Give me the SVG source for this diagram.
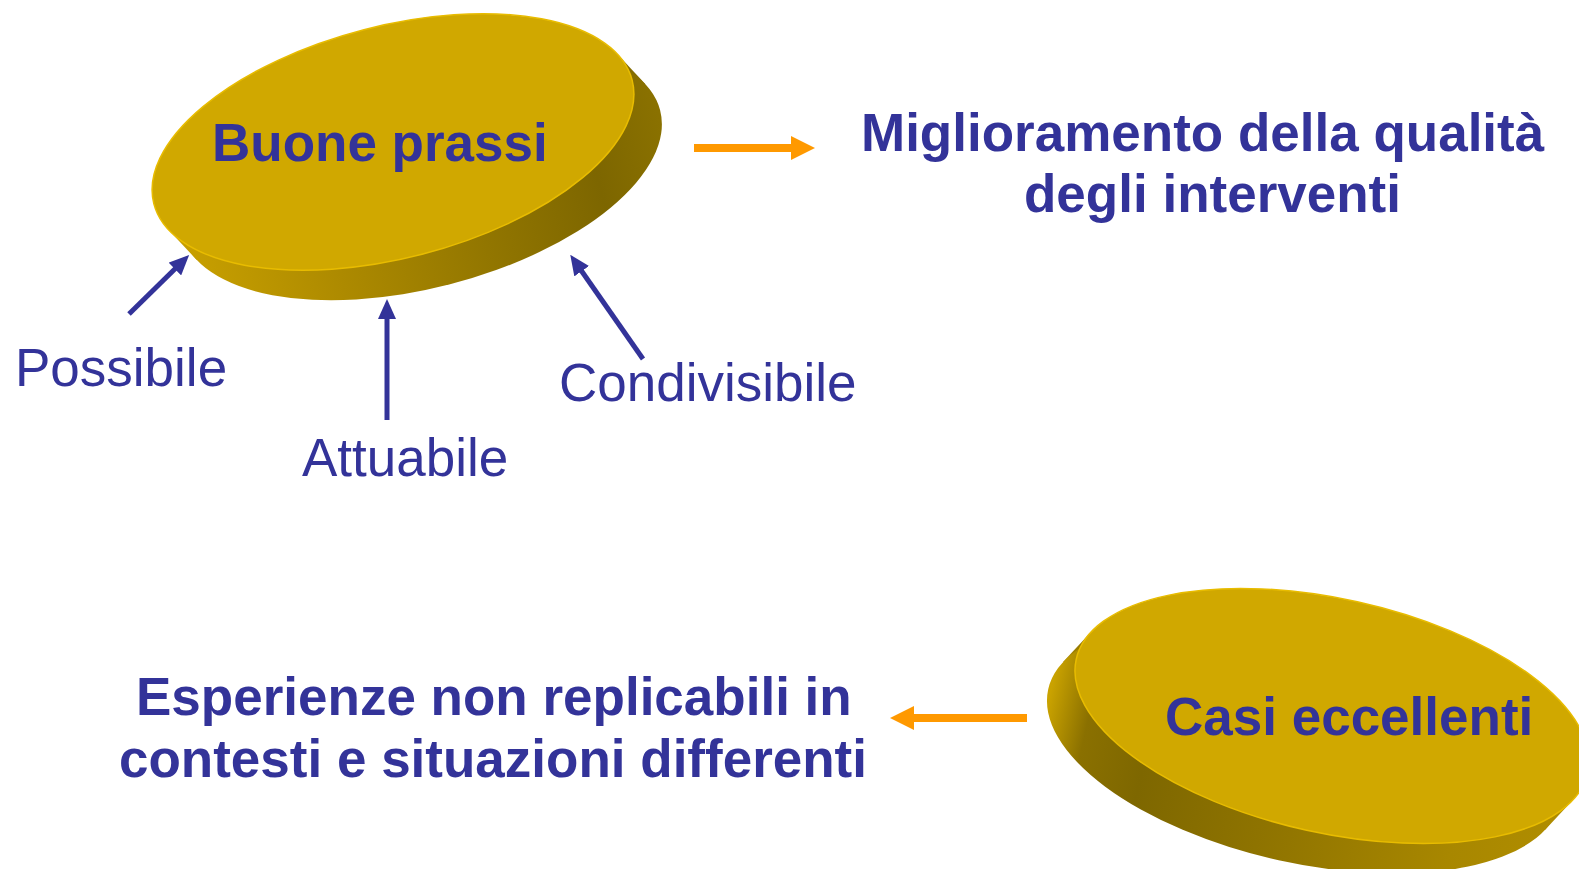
<svg xmlns="http://www.w3.org/2000/svg" width="1579" height="869" viewBox="0 0 1579 869">
<style>
.face{fill:#D0A800;stroke:#E8BC00;stroke-width:1.5}
.bold{font-family:"Liberation Sans",Arial,sans-serif;font-weight:bold;font-size:53px;fill:#333399}
.reg{font-family:"Liberation Sans",Arial,sans-serif;font-size:53px;fill:#333399}
.blue{stroke:#333399;stroke-width:5;fill:none}
.orange{stroke:#FF9900;stroke-width:8;fill:none}
</style>
<defs>
<linearGradient id="sideTop" gradientUnits="userSpaceOnUse" x1="168" y1="0" x2="665" y2="0">
<stop offset="0" stop-color="#c8a000"/>
<stop offset="0.3" stop-color="#ad8a00"/>
<stop offset="0.6" stop-color="#927600"/>
<stop offset="0.85" stop-color="#7d6600"/>
<stop offset="1" stop-color="#8a7100"/>
</linearGradient>
<linearGradient id="sideBot" gradientUnits="userSpaceOnUse" x1="1045" y1="0" x2="1575" y2="0">
<stop offset="0" stop-color="#c9a200"/>
<stop offset="0.08" stop-color="#8a7000"/>
<stop offset="0.2" stop-color="#7e6700"/>
<stop offset="0.5" stop-color="#927600"/>
<stop offset="0.8" stop-color="#a88700"/>
<stop offset="1" stop-color="#b08d00"/>
</linearGradient>
<marker id="blueHead" viewBox="0 0 20 18" refX="10" refY="9" markerWidth="20" markerHeight="18" markerUnits="userSpaceOnUse" orient="auto">
<path d="M0,0 L20,9 L0,18 Z" fill="#333399"/>
</marker>
<marker id="orangeHead" viewBox="0 0 24 24" refX="12" refY="12" markerWidth="24" markerHeight="24" markerUnits="userSpaceOnUse" orient="auto">
<path d="M0,0 L24,12 L0,24 Z" fill="#FF9900"/>
</marker>
</defs>

<g id="node-buone-prassi">
<polygon points="617.5,54.3 645.5,84.3 196.5,259.7 168.5,229.7" fill="url(#sideTop)"/>
<ellipse cx="421" cy="172" rx="247" ry="116" transform="rotate(-14.5 421 172)" fill="url(#sideTop)"/>
<ellipse class="face" cx="393" cy="142" rx="247" ry="116" transform="rotate(-14.5 393 142)"/>
<text class="bold" x="212" y="161">Buone prassi</text>
</g>

<g id="node-casi-eccellenti">
<polygon points="1572.9,799.9 1544.9,829.9 1063,662.1 1091,632.1" fill="url(#sideBot)"/>
<ellipse cx="1304" cy="746" rx="262" ry="117" transform="rotate(12.5 1304 746)" fill="url(#sideBot)"/>
<ellipse class="face" cx="1332" cy="716" rx="262" ry="117" transform="rotate(12.5 1332 716)"/>
<text class="bold" x="1165" y="735">Casi eccellenti</text>
</g>

<g id="node-miglioramento">
<text class="bold" x="861" y="151">Miglioramento della qualità</text>
<text class="bold" x="1024" y="212">degli interventi</text>
</g>

<g id="node-esperienze">
<text class="bold" x="136" y="715">Esperienze non replicabili in</text>
<text class="bold" x="119" y="777">contesti e situazioni differenti</text>
</g>

<g id="node-possibile"><text class="reg" x="15" y="386">Possibile</text></g>
<g id="node-attuabile"><text class="reg" x="302" y="476">Attuabile</text></g>
<g id="node-condivisibile"><text class="reg" x="559" y="401">Condivisibile</text></g>

<g id="connectors">
<line class="blue" x1="129" y1="314" x2="182" y2="262" marker-end="url(#blueHead)"/>
<line class="blue" x1="387" y1="420" x2="387" y2="309" marker-end="url(#blueHead)"/>
<line class="blue" x1="643" y1="359" x2="576" y2="263" marker-end="url(#blueHead)"/>
<line class="orange" x1="694" y1="148" x2="803" y2="148" marker-end="url(#orangeHead)"/>
<line class="orange" x1="1027" y1="718" x2="902" y2="718" marker-end="url(#orangeHead)"/>
</g>
</svg>
